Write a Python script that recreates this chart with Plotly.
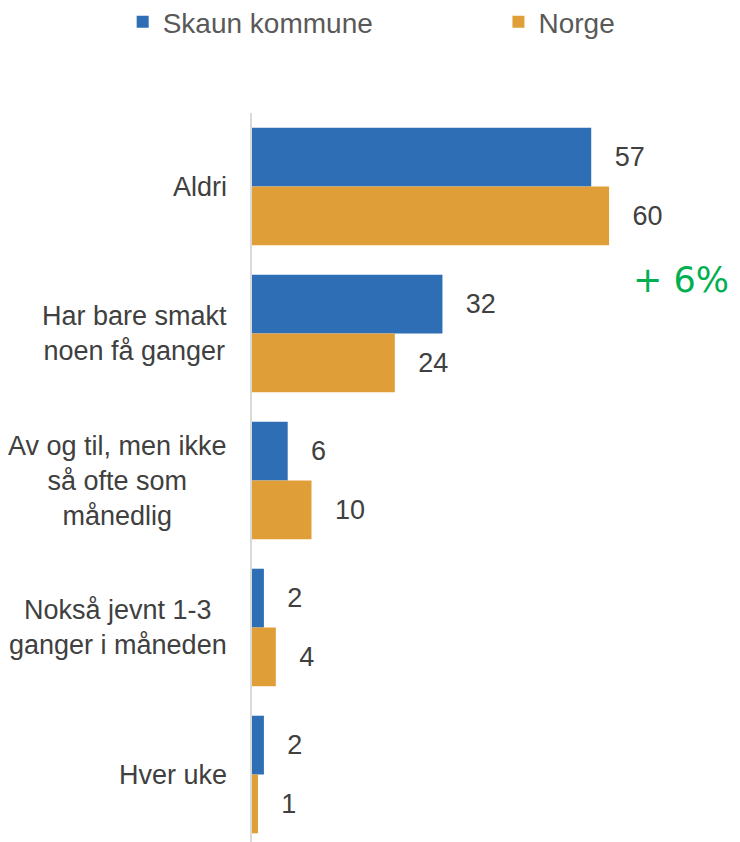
import plotly.graph_objects as go

categories = [
    "Aldri",
    "Har bare smakt<br>noen få ganger",
    "Av og til, men ikke<br>så ofte som<br>månedlig",
    "Nokså jevnt 1-3<br>ganger i måneden",
    "Hver uke",
]
skaun = [57, 32, 6, 2, 2]
norge = [60, 24, 10, 4, 1]

BLUE = "#2E6EB5"
ORANGE = "#DF9E38"
TEXT = "#404040"
FONT = "Liberation Sans, Arial, sans-serif"
PAD = "\u00a0\u00a0\u2009"

fig = go.Figure()
fig.add_trace(go.Bar(
    y=categories, x=skaun, orientation="h", name="Skaun kommune",
    marker=dict(color=BLUE, line=dict(width=0)),
    text=skaun, texttemplate=PAD + "%{x}", textposition="outside",
    textfont=dict(size=27, color=TEXT, family=FONT), cliponaxis=False,
    legend="legend",
))
fig.add_trace(go.Bar(
    y=categories, x=norge, orientation="h", name="Norge",
    marker=dict(color=ORANGE, line=dict(width=0)),
    text=norge, texttemplate=PAD + "%{x}", textposition="outside",
    textfont=dict(size=27, color=TEXT, family=FONT), cliponaxis=False,
    legend="legend2",
))

# category labels, centred lines like the original
for cat in categories:
    fig.add_annotation(
        x=0, xref="paper", y=cat, yref="y", text=cat,
        xanchor="right", xshift=-23, align="center", showarrow=False,
        font=dict(size=27, color=TEXT, family=FONT),
    )

fig.add_annotation(
    x=1, xref="paper", y=1 - 167 / 729, yref="paper", text="+ 6%",
    xanchor="right", xshift=-9, yanchor="middle", showarrow=False,
    font=dict(size=35, color="#00B050", family="DejaVu Sans, sans-serif"),
)

legend_style = dict(
    orientation="h", xanchor="left", y=1 + 91 / 729, yanchor="middle",
    font=dict(size=28, color="#595959", family=FONT), itemwidth=30,
)

# page body has an 8px margin, so the figure is 8px smaller each way
fig.update_layout(
    width=732, height=834,
    margin=dict(l=244, r=0, t=105, b=0, autoexpand=False),
    barmode="group", bargap=0.2, bargroupgap=0,
    plot_bgcolor="white", paper_bgcolor="white",
    showlegend=True,
    legend=dict(x=-0.265, **legend_style),
    legend2=dict(x=0.505, **legend_style),
    xaxis=dict(range=[0, 82], visible=False),
    yaxis=dict(
        range=[4.459, -0.5], showticklabels=False, ticks="",
        showgrid=False, showline=True, linecolor="#D9D9D9", linewidth=2,
        zeroline=False,
    ),
)

fig.write_html("out.html")
